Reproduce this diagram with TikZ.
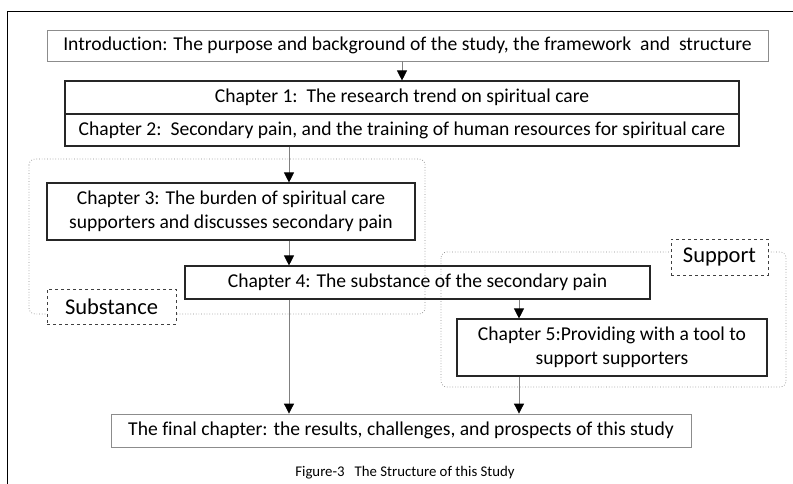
\documentclass[tikz,border=0pt]{standalone}
\usepackage{fontspec}
\setmainfont[Ligatures=NoCommon]{Carlito}
\usetikzlibrary{arrows.meta}
\begin{document}
\begin{tikzpicture}[x=1pt,y=-1pt,
  darkbox/.style={draw=black!85,line width=1.1pt,inner sep=0pt,align=center,font=\fontsize{19.6}{24.5}\selectfont},
  lightbox/.style={draw=black!45,line width=0.8pt,inner sep=0pt,align=center,font=\fontsize{19.6}{24.5}\selectfont},
  tagbox/.style={draw=black!75,dashed,line width=0.9pt,fill=white,inner sep=0pt,font=\fontsize{22.5}{26}\selectfont},
  region/.style={draw=black!45,dotted,line width=0.7pt,rounded corners=6pt},
  arr/.style={draw=black!50,line width=0.8pt,-{Triangle[length=10pt,width=10pt,color=black]}}]
\useasboundingbox (0,0) rectangle (793,484);
% outer frame (left and top edges)
\draw[line width=0.9pt] (7,484) -- (7,11) -- (793,11);
% grouping regions
\draw[region] (29,159) rectangle (425,314);
\draw[region] (441,252) rectangle (786,387);
% chapter boxes
\node[lightbox,minimum width=721pt,minimum height=31pt] (intro) at (407.5,45.5)
  {Introduction: The purpose and background of the study, the framework\ \ and\ \ structure};
\node[darkbox,minimum width=674pt,minimum height=33pt] (ch1) at (402,97.5)
  {Chapter 1:\ \ The research trend on spiritual care};
\node[darkbox,minimum width=674pt,minimum height=32pt] (ch2) at (402,130)
  {Chapter 2:\ \ Secondary pain, and the training of human resources for spiritual care};
\node[darkbox,minimum width=368pt,minimum height=57pt] (ch3) at (231,211.5)
  {Chapter 3: The burden of spiritual care\\supporters and discusses secondary pain};
\node[darkbox,minimum width=465pt,minimum height=33pt] (ch4) at (417.5,282.5)
  {Chapter 4: The substance of the secondary pain};
\node[darkbox,minimum width=310pt,minimum height=57pt] (ch5) at (612,347.5)
  {Chapter 5:Providing with a tool to\\support supporters};
\node[lightbox,minimum width=580pt,minimum height=33pt] (final) at (401,430.5)
  {The final chapter: the results, challenges, and prospects of this study};
% region labels
\node[tagbox,minimum width=129pt,minimum height=35pt] (subst) at (111.5,306.5) {Substance};
\node[tagbox,minimum width=97pt,minimum height=36pt] (supp) at (719.5,257) {Support};
% arrow columns
\coordinate (colA) at (289,0);
\coordinate (colB) at (519,0);
\draw[arr] (ch1.north |- intro.south) -- (ch1.north);
\draw[arr] (colA |- ch2.south) -- (colA |- ch3.north);
\draw[arr] (colA |- ch3.south) -- (colA |- ch4.north);
\draw[arr] (colA |- ch4.south) -- (colA |- final.north);
\draw[arr] (colB |- ch4.south) -- (colB |- ch5.north);
\draw[arr] (colB |- ch5.south) -- (colB |- final.north);
% caption
\node[font=\fontsize{14.8}{18}\selectfont] (cap) at (405,473) {Figure-3\ \ \ The Structure of this Study};
\end{tikzpicture}
\end{document}
